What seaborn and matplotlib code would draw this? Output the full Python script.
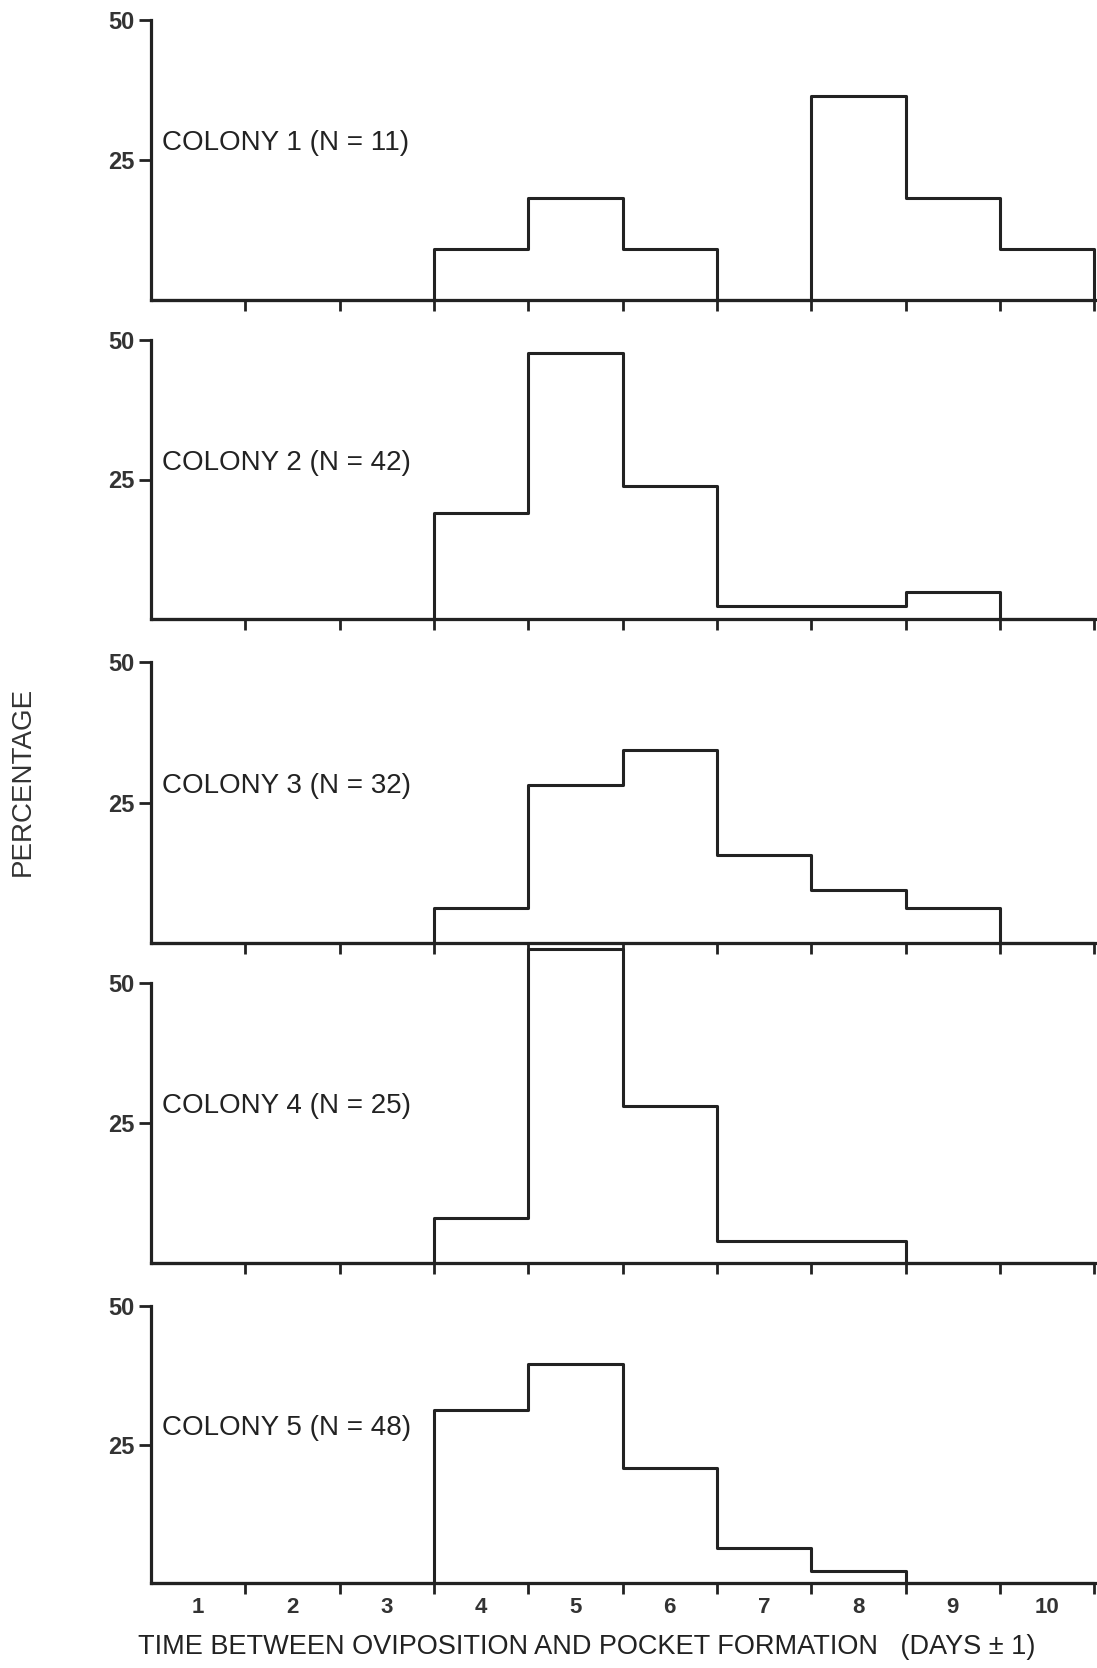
import numpy as np
import pandas as pd
import matplotlib
matplotlib.use("Agg")
import matplotlib.pyplot as plt
import seaborn as sns

# ---- data (percentages) ----
days = [1, 2, 3, 4, 5, 6, 7, 8, 9, 10]
colony1 = [0, 0, 0, 9.1, 18.2, 9.1, 0, 36.4, 18.2, 9.1]
colony2 = [0, 0, 0, 19.0, 47.6, 23.8, 2.4, 2.4, 4.8, 0]
colony3 = [0, 0, 0, 6.3, 28.1, 34.4, 15.6, 9.4, 6.3, 0]
colony4 = [0, 0, 0, 8.0, 56.0, 28.0, 4.0, 4.0, 0, 0]
colony5 = [0, 0, 0, 31.3, 39.6, 20.8, 6.3, 2.1, 0, 0]
colony_names = ["COLONY 1", "COLONY 2", "COLONY 3", "COLONY 4", "COLONY 5"]
colony_n = [11, 42, 32, 25, 48]
y_ticks = [25, 50]
x_label = "TIME BETWEEN OVIPOSITION AND POCKET FORMATION   (DAYS \u00b1 1)"
y_label = "PERCENTAGE"

series = [colony1, colony2, colony3, colony4, colony5]

sns.set_style("ticks")
plt.rcParams["font.family"] = ["Liberation Sans", "DejaVu Sans"]

W, H = 1097, 1668
fig = plt.figure(figsize=(W / 100, H / 100), dpi=100)

panel_px = [(20, 300), (340, 619), (662, 943), (983, 1263), (1306, 1583)]
left_px, right_px = 151, 1097

edges = [d - 0.5 for d in days] + [days[-1] + 0.5]
ink = "#222222"

for i, (vals, name, n, (top, bot)) in enumerate(zip(series, colony_names, colony_n, panel_px)):
    ax = fig.add_axes([left_px / W, 1 - bot / H, (right_px - left_px) / W, (bot - top) / H])
    df = pd.DataFrame({"day": days, "pct": vals})
    sns.histplot(data=df, x="day", weights="pct", bins=edges, element="step",
                 fill=True, facecolor="none", color=ink, linewidth=2.2, ax=ax)
    for c in ax.collections:
        c.set_clip_on(False)
    ax.set_xlim(0.5, 10.53)
    ax.set_ylim(0, 50)
    ax.set_xlabel("")
    ax.set_ylabel("")
    sns.despine(ax=ax)
    ax.spines["left"].set_bounds(0, 50)
    for s in ("left", "bottom"):
        ax.spines[s].set_linewidth(2.3)
        ax.spines[s].set_color(ink)
    ax.set_yticks(y_ticks)
    ax.set_yticklabels([str(t) for t in y_ticks], fontsize=17, fontweight="bold", color="#333333")
    ax.tick_params(axis="y", direction="out", length=9, width=2, pad=3, color=ink)
    ax.set_xticks(edges[1:])
    ax.tick_params(axis="x", direction="out", length=8, width=2, color=ink, labelbottom=False)
    ax.text(0.62, 28, f"{name} (N = {n})", fontsize=20, va="center", ha="left", color=ink)
    ax.patch.set_alpha(0)
    if i == len(series) - 1:
        ax.set_xticks(days, minor=True)
        ax.set_xticklabels([str(d) for d in days], minor=True, fontsize=16,
                           fontweight="bold", color="#333333")
        ax.tick_params(axis="x", which="minor", length=0, pad=10, labelbottom=True)

fig.text(587 / W, 1 - 1647 / H, x_label, fontsize=19.5, va="center", ha="center", color=ink)
fig.text(23 / W, 1 - 781 / H, y_label, rotation=90, fontsize=20, va="center", ha="center",
         color="#333333")

fig.savefig("out.png", dpi=100)
